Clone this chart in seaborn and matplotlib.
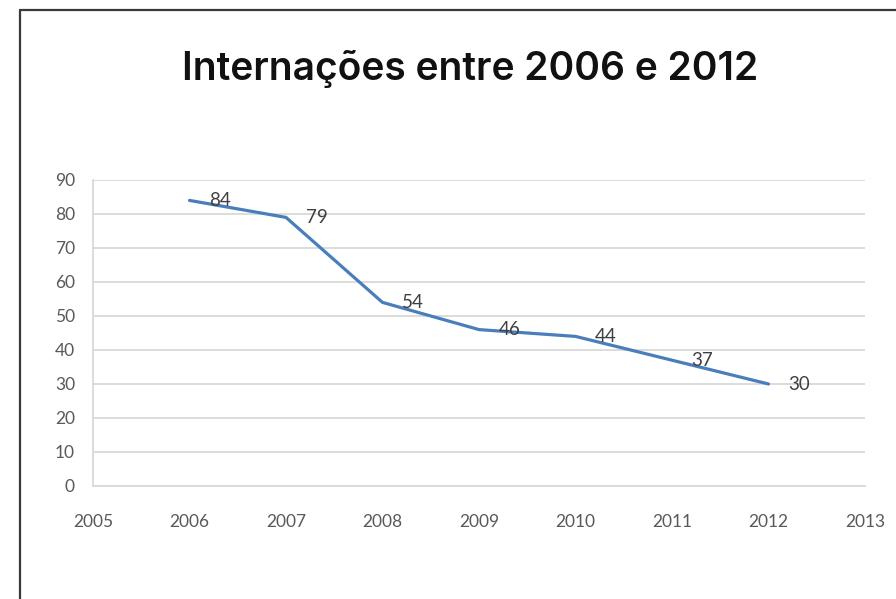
import matplotlib
matplotlib.use("Agg")
import matplotlib.pyplot as plt
import seaborn as sns
import pandas as pd
from matplotlib.lines import Line2D

years = [2006, 2007, 2008, 2009, 2010, 2011, 2012]
values = [84, 79, 54, 46, 44, 37, 30]
x_ticks = [2005, 2006, 2007, 2008, 2009, 2010, 2011, 2012, 2013]
y_ticks = [0, 10, 20, 30, 40, 50, 60, 70, 80, 90]
title = "Internações entre 2006 e 2012"

df = pd.DataFrame({"ano": years, "internacoes": values})

sns.set_style("white")
plt.rcParams["font.family"] = ["Lato", "DejaVu Sans"]

fig = plt.figure(figsize=(8.96, 5.99), dpi=100)
ax = fig.add_axes([93 / 896, 1 - 486 / 599, (865 - 93) / 896, (486 - 180) / 599])

sns.lineplot(data=df, x="ano", y="internacoes", ax=ax, color="#4A7EBB", linewidth=2.3)

ax.set_xlim(x_ticks[0], x_ticks[-1])
ax.set_ylim(y_ticks[0], y_ticks[-1])
ax.set_xticks(x_ticks)
ax.set_yticks(y_ticks)
ax.set_xticklabels([str(t) for t in x_ticks])
ax.set_yticklabels([str(t) for t in y_ticks])
ax.set_xlabel("")
ax.set_ylabel("")
ax.yaxis.grid(True, color="#D9D9D9", linewidth=1.3)
ax.xaxis.grid(False)
ax.set_axisbelow(True)
for s in ["top", "right"]:
    ax.spines[s].set_visible(False)
for s in ["left", "bottom"]:
    ax.spines[s].set_color("#D9D9D9")
    ax.spines[s].set_linewidth(1.3)
ax.tick_params(axis="x", length=0, pad=20, labelsize=12.5, labelcolor="#595959")
ax.tick_params(axis="y", length=0, pad=13, labelsize=12.5, labelcolor="#595959")

for xv, yv in zip(years, values):
    ax.annotate(str(yv), (xv, yv), xytext=(22, 0), textcoords="offset points",
                ha="center", va="center", fontsize=13.5, color="#404040")

fig.text(470 / 896, 1 - 80 / 599, title, ha="center", va="baseline",
         fontsize=28, fontweight="semibold", color="#111111",
         family=["Inter", "DejaVu Sans"])

y_top = 1 - 10 / 599
x_left = 20 / 896
fig.add_artist(Line2D([x_left, x_left], [0, y_top], transform=fig.transFigure,
                      color="#3A3A3A", linewidth=1.6))
fig.add_artist(Line2D([x_left, 1], [y_top, y_top], transform=fig.transFigure,
                      color="#3A3A3A", linewidth=1.6))

fig.savefig("out.png", dpi=100)
